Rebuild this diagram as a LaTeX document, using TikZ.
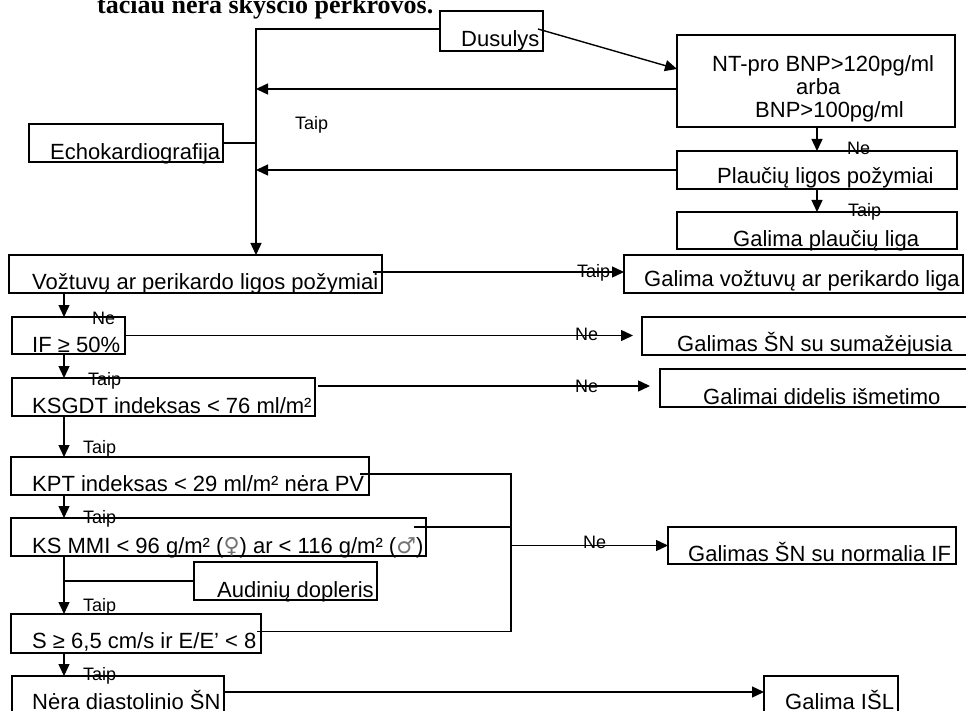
\documentclass[tikz,border=0pt]{standalone}
\usepackage{fontspec}
\setmainfont{Liberation Sans}
\newfontfamily\serifbold{Liberation Serif}
\newfontfamily\symfont{DejaVu Sans}
\usetikzlibrary{arrows.meta,fit,calc}
\begin{document}
\begin{tikzpicture}[x=1pt,y=-1pt,
  box/.style={draw, line width=1.6pt, inner sep=0pt, outer sep=0pt, fit={#1}},
  txt/.style={anchor=base west, inner sep=0pt, font=\fontsize{22}{24}\selectfont},
  lab/.style={anchor=base west, inner sep=0pt, font=\fontsize{18}{20}\selectfont},
  ln/.style={line width=1.4pt},
  arr/.style={ln, -{Triangle[length=12pt,width=11pt]}}]
\useasboundingbox (0,0) rectangle (966,711);
\node[anchor=base west, inner sep=0pt, font=\serifbold\bfseries\fontsize{26}{28}\selectfont] (title) at (97,13.5) {tačiau nėra skysčio perkrovos.};
% boxes
\node[box={(440,11) (543,51)}] (dus) {};
\node[box={(677,35) (955,127)}] (nt) {};
\node[box={(29,124) (223,162)}] (echo) {};
\node[box={(677,151) (957,189)}] (plau) {};
\node[box={(677,212) (957,249)}] (gpl) {};
\node[box={(9,255) (382,293)}] (voz) {};
\node[box={(624,255) (963,293)}] (gvoz) {};
\node[box={(12,317) (125,354)}] (ifb) {};
\node[box={(642,317) (985,355)}] (gsum) {};
\node[box={(12,378) (315,416)}] (ksg) {};
\node[box={(660,369) (985,407)}] (gdid) {};
\node[box={(11,457) (369,495)}] (kpt) {};
\node[box={(11,518) (426,556)}] (ksm) {};
\node[box={(194,562) (377,600)}] (aud) {};
\node[box={(668,527) (956,564)}] (gnorm) {};
\node[box={(11,614) (261,653)}] (sbox) {};
\node[box={(12,676) (224,740)}] (nera) {};
\node[box={(764,676) (898,740)}] (isl) {};
% texts
\node[txt] (tdus) at (461,47) {Dusulys};
\node[txt] (tnt1) at (712,72) {NT-pro BNP>120pg/ml};
\node[txt] (tnt2) at (796,95) {arba};
\node[txt] (tnt3) at (755,118) {BNP>100pg/ml};
\node[txt] (techo) at (50,160) {Echokardiografija};
\node[txt] (tplau) at (717,184) {Plaučių ligos požymiai};
\node[txt] (tgpl) at (733,247) {Galima plaučių liga};
\node[txt] (tvoz) at (32,290) {Vožtuvų ar perikardo ligos požymiai};
\node[txt] (tgvoz) at (644,287) {Galima vožtuvų ar perikardo liga};
\node[txt] (tif) at (32,352) {IF ≥ 50\%};
\node[txt] (tgsum) at (677,351) {Galimas ŠN su sumažėjusia};
\node[txt] (tksg) at (32,413) {KSGDT indeksas < 76 ml/m²};
\node[txt] (tgdid) at (703,404) {Galimai didelis išmetimo};
\node[txt] (tkpt) at (32,491) {KPT indeksas < 29 ml/m² nėra PV};
\node[txt] (tksm) at (32,553) {KS MMI < 96 g/m² ({\symfont\color{black!55}♀}) ar < 116 g/m² ({\symfont\color{black!55}♂})};
\node[txt] (taud) at (217,597) {Audinių dopleris};
\node[txt] (tgnorm) at (688,561) {Galimas ŠN su normalia IF};
\node[txt] (ts) at (32,648) {S ≥ 6,5 cm/s ir E/E’ < 8};
\node[txt] (tnera) at (32,709) {Nėra diastolinio ŠN};
\node[txt] (tisl) at (785,709) {Galima IŠL};
% labels
\node[lab] (l0) at (295,130) {Taip};
\node[lab] (l1) at (847,155) {Ne};
\node[lab] (l2) at (848,217) {Taip};
\node[lab] (l3) at (577,278) {Taip};
\node[lab] (l4) at (92,324) {Ne};
\node[lab] (l5) at (575,340) {Ne};
\node[lab] (l6) at (88,385) {Taip};
\node[lab] (l7) at (575,392) {Ne};
\node[lab] (l8) at (83,453) {Taip};
\node[lab] (l9) at (83,523) {Taip};
\node[lab] (l10) at (583,548) {Ne};
\node[lab] (l11) at (83,611) {Taip};
\node[lab] (l12) at (83,680) {Taip};
% helper coordinates
\coordinate (vx) at (256,0);
\coordinate (lx) at (64,0);
\coordinate (cx) at (817,0);
\coordinate (rx) at (511,0);
% connectors
\coordinate (d0) at ($(dus.west)+(0,-2)$);
\draw[arr] (d0) -| (vx |- voz.north);
\draw[arr] ($(dus.east)+(-5,-2)$) -- ($(nt.west)+(0,-12)$);
\coordinate (a1) at ($(nt.west)+(0,8)$);
\draw[arr] (a1) -- (vx |- a1);
\draw[arr] (plau.west) -- (vx |- plau.west);
\draw[ln] (echo.east) -- (vx |- echo.east);
\draw[arr] (cx |- nt.south) -- (cx |- plau.north);
\draw[arr] (cx |- plau.south) -- (cx |- gpl.north);
\coordinate (a2) at ($(voz.east)+(-9,-2)$);
\draw[arr] (a2) -- (gvoz.west |- a2);
\draw[arr] (lx |- voz.south) -- (lx |- ifb.north);
\coordinate (a3) at (ifb.east);
\draw[arr] (a3) -- ($(gsum.west |- a3)+(-9,0)$);
\draw[arr] (lx |- ifb.south) -- (lx |- ksg.north);
\coordinate (a4) at ($(ksg.east)+(3,-11)$);
\draw[arr] (a4) -- ($(gdid.west |- a4)+(-10,0)$);
\draw[arr] (lx |- ksg.south) -- (lx |- kpt.north);
\coordinate (a5) at ($(kpt.east)+(-9,-2)$);
\coordinate (a6) at ($(sbox.east)+(-4,-2)$);
\draw[ln] (a5) -| (rx |- a6) -- (a6);
\coordinate (a7) at ($(ksm.east)+(-12,-10)$);
\draw[ln] (a7) -- (rx |- a7);
\draw[arr] (rx |- gnorm.west) -- (gnorm.west);
\draw[arr] (lx |- kpt.south) -- (lx |- ksm.north);
\draw[arr] (lx |- ksm.south) -- (lx |- sbox.north);
\draw[ln] (lx |- aud.west) -- (aud.west);
\draw[arr] (lx |- sbox.south) -- (lx |- nera.north);
\coordinate (a8) at ($(nera.north east)+(-1,16)$);
\draw[arr] (a8) -- (isl.west |- a8);
\end{tikzpicture}
\end{document}
